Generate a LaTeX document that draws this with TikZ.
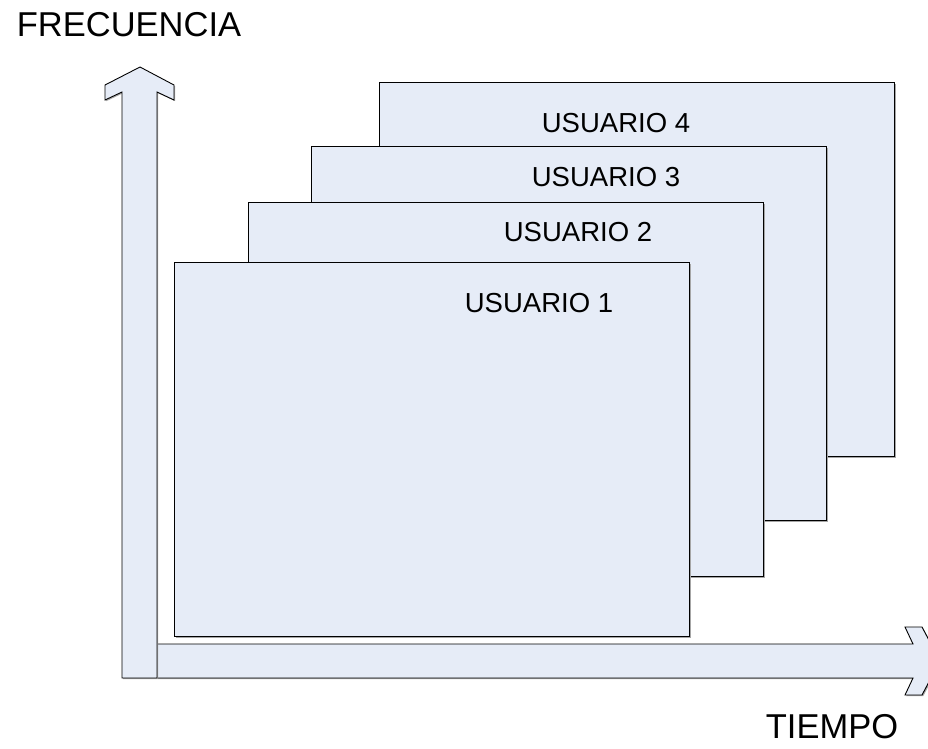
\documentclass[tikz,border=0pt]{standalone}
\usepackage{fontspec}
\setmainfont{Liberation Sans}
\usetikzlibrary{shadows}
\definecolor{boxfill}{RGB}{230,236,247}

\begin{document}
\begin{tikzpicture}[x=1pt,y=-1pt]
	\tikzstyle{user}=[rectangle,draw=black,fill=boxfill,line width=0.9pt,minimum width=515pt,minimum height=374pt,anchor=north west,inner sep=0pt,drop shadow={shadow xshift=1.2pt,shadow yshift=-1.2pt,fill=gray!70,opacity=1}]
	\tikzstyle{axis}=[draw=black,fill=boxfill,line width=0.9pt,line join=miter,drop shadow={shadow xshift=1.2pt,shadow yshift=-1.2pt,fill=gray!70,opacity=1}]
	\tikzstyle{tag}=[inner sep=0pt,font=\fontsize{27.5}{33}\selectfont]
	\tikzstyle{title}=[inner sep=0pt,font=\fontsize{34.5}{41}\selectfont]
	\useasboundingbox (0,0) rectangle (928,748);
	% usuarios
	\node[user] (u4) at (379,82) {};
	\node[user] (u3) at (311,146) {};
	\node[user] (u2) at (248,202) {};
	\node[user] (u1) at (174,262) {};
	\node[tag] (t4) at (616,123.5) {USUARIO 4};
	\node[tag] (t3) at (606,177.5) {USUARIO 3};
	\node[tag] (t2) at (578,232) {USUARIO 2};
	\node[tag] (t1) at (539,303) {USUARIO 1};
	% ejes
	\path[axis] (157,644) -- (913,644) -- (905,627) -- (922,627) -- (940,661) -- (922,695) -- (905,695) -- (913,678) -- (157,678) -- cycle;
	\path[axis] (122,678) -- (122,92) -- (105,100) -- (105,85) -- (140,67) -- (174,85) -- (174,100) -- (157,92) -- (157,678) -- cycle;
	\node[title] (f) at (129,25) {FRECUENCIA};
	\node[title] (t) at (832,727) {TIEMPO};
\end{tikzpicture}
\end{document}
